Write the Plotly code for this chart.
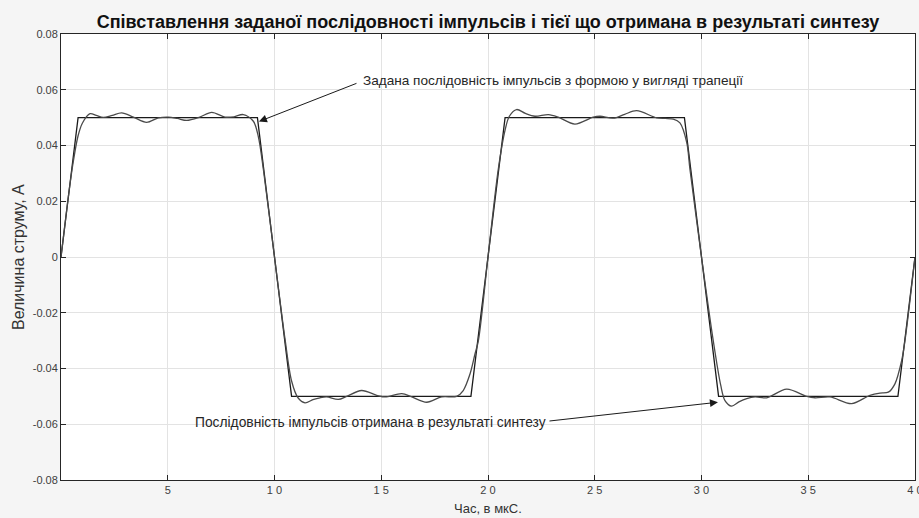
import plotly.graph_objects as go

# Trapezoid (given) sequence
trap_t = [0, 0.8, 9.2, 10.8, 19.2, 20.8, 29.2, 30.8, 39.2, 40]
trap_v = [0, 0.05, 0.05, -0.05, -0.05, 0.05, 0.05, -0.05, -0.05, 0]

# Synthesised sequence
synth_t = [0, 0.3, 0.55, 0.8, 1.0, 1.36, 1.65, 1.98, 2.4, 2.84, 3.39, 4.01, 4.56, 5.03, 5.45,
           5.89, 6.5, 7.06, 7.68, 8.1, 8.54, 9.01, 9.24, 9.48, 10.0, 10.49, 10.8, 11.1, 11.43,
           11.8, 12.13, 12.44, 12.99, 13.38, 14.08, 14.79, 15.18, 15.96, 16.43, 17.13, 17.83,
           18.53, 18.84, 19.16, 19.39, 19.55, 20.0, 20.48, 20.8, 21.0, 21.34, 21.75, 22.2,
           22.83, 23.29, 24.07, 24.93, 25.25, 25.87, 26.4, 26.96, 27.9, 28.3, 28.68, 28.99,
           29.31, 29.46, 30.0, 30.55, 30.9, 31.1, 31.41, 31.75, 32.12, 32.51, 33.05, 33.99,
           34.93, 35.32, 36.02, 37.03, 37.89, 38.36, 38.75, 39.06, 39.38, 39.53, 40.0]
synth_v = [0, 0.019, 0.033, 0.0435, 0.048, 0.0514, 0.0508, 0.0501, 0.0508, 0.0517, 0.0502,
           0.0483, 0.0499, 0.0502, 0.0497, 0.0490, 0.0502, 0.0519, 0.0502, 0.0503, 0.0511,
           0.0487, 0.0433, 0.0314, 0.0, -0.0293, -0.0445, -0.0505, -0.0523, -0.0512, -0.0505,
           -0.0502, -0.0511, -0.0500, -0.0479, -0.0496, -0.0502, -0.0490, -0.0502, -0.0521,
           -0.0502, -0.0500, -0.0479, -0.0419, -0.0348, -0.0300, 0.0, 0.0314, 0.0455, 0.0505,
           0.0529, 0.0515, 0.0505, 0.0511, 0.0502, 0.0477, 0.0502, 0.0505, 0.0498, 0.0512,
           0.0525, 0.0499, 0.0497, 0.0495, 0.0481, 0.0410, 0.0314, 0.0, -0.0300, -0.0460,
           -0.0515, -0.0535, -0.0520, -0.0508, -0.0502, -0.0505, -0.0474, -0.0500, -0.0505,
           -0.0502, -0.0526, -0.0496, -0.0488, -0.0485, -0.0455, -0.0370, -0.0300, 0.0]

x_ticks = [5, 10, 15, 20, 25, 30, 35, 40]
x_tick_text = ["5", "1 0", "1 5", "2 0", "2 5", "3 0", "3 5", "4 0"]
y_ticks = [-0.08, -0.06, -0.04, -0.02, 0, 0.02, 0.04, 0.06, 0.08]
y_tick_text = ["-0.08", "-0.06", "-0.04", "-0.02", "0", "0.02", "0.04", "0.06", "0.08"]

title = "Співставлення заданої послідовності імпульсів і тієї що отримана в результаті синтезу"
note1 = "Задана послідовність імпульсів з формою у вигляді трапеції"
note2 = "Послідовність імпульсів отримана в результаті синтезу"
x_title = "Час, в мкС."
y_title = "Величина струму, А"

FONT = "Liberation Sans, Arial, sans-serif"

fig = go.Figure()
fig.add_trace(go.Scatter(x=trap_t, y=trap_v, mode="lines",
                         line=dict(color="#1a1a1a", width=1.3), showlegend=False))
fig.add_trace(go.Scatter(x=synth_t, y=synth_v, mode="lines", line_shape="spline",
                         line=dict(color="#4a4a4a", width=1.3, smoothing=0.9), showlegend=False))

axis_common = dict(showline=True, linecolor="#262626", linewidth=1, mirror="ticks",
                   ticks="inside", ticklen=5, tickcolor="#262626", automargin=False,
                   showgrid=True, gridcolor="#e3e3e3", gridwidth=1, zeroline=False,
                   ticklabeloverflow="allow",
                   tickfont=dict(family=FONT, size=11, color="#404040"))

fig.update_xaxes(range=[0, 40], tickvals=x_ticks, ticktext=x_tick_text, **axis_common)
fig.update_yaxes(range=[-0.08, 0.08], tickvals=y_ticks, ticktext=y_tick_text, **axis_common)

fig.add_annotation(x=0.5, y=-0.063, xref="paper", yref="paper", text=x_title, showarrow=False,
                   xanchor="center", yanchor="middle",
                   font=dict(family=FONT, size=13, color="#333"))
fig.add_annotation(x=-0.0503, y=0.5, xref="paper", yref="paper", text=y_title, showarrow=False,
                   textangle=-90, xanchor="center", yanchor="middle",
                   font=dict(family=FONT, size=16, color="#333"))

fig.add_annotation(x=9.27, y=0.0486, ax=13.91, ay=0.0625, axref="x", ayref="y",
                   text="", showarrow=True, arrowhead=2, arrowsize=1.6, arrowwidth=1,
                   arrowcolor="#1a1a1a", standoff=0, startstandoff=0)
fig.add_annotation(x=14.05, y=0.0633, text=note1, showarrow=False, xanchor="left",
                   yanchor="middle", font=dict(family=FONT, size=13.6, color="#262626"))
fig.add_annotation(x=30.77, y=-0.0521, ax=22.81, ay=-0.0589, axref="x", ayref="y",
                   text="", showarrow=True, arrowhead=2, arrowsize=1.6, arrowwidth=1,
                   arrowcolor="#1a1a1a", standoff=0, startstandoff=0)
fig.add_annotation(x=22.81, y=-0.0593, text=note2, showarrow=False, xanchor="right",
                   yanchor="middle", font=dict(family=FONT, size=13.8, color="#262626"))

fig.update_layout(
    width=919, height=518,
    margin=dict(l=61, r=4, t=34, b=38, autoexpand=False),
    paper_bgcolor="#f5f5f5", plot_bgcolor="white",
    title=dict(text="<b>" + title + "</b>", x=0.531, xanchor="center", y=1 - 22 / 518,
               yanchor="middle", yref="container",
               font=dict(family=FONT, size=18, color="#111")),
)

fig.write_html("out.html", config={"displayModeBar": False},
               post_script="document.body.style.margin='0';document.body.style.background='#f5f5f5';")
